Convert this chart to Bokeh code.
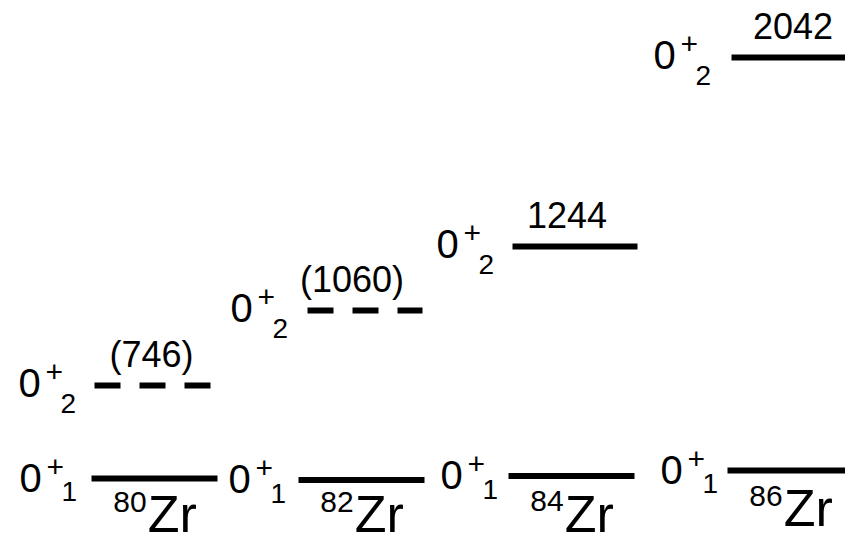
from bokeh.plotting import figure
from bokeh.models import Range1d
from bokeh.core.properties import value
from bokeh.embed import file_html
from bokeh.resources import INLINE

# ---- data ----
mass_numbers = ["80", "82", "84", "86"]
element = "Zr"
ground_labels = ["1", "1", "1", "1"]          # 0+_1
excited_labels = ["2", "2", "2", "2"]         # 0+_2
excited_energy_labels = ["(746)", "(1060)", "1244", "2042"]
excited_tentative = [True, True, False, False]
# schematic level heights (drawing units, not to scale)
ground_level_y = [66, 64.5, 68.5, 74]
excited_level_y = [159, 234, 298, 487]

# ---- layout (drawing units) ----
ground_x0 = [91, 298, 508, 727]
ground_w = 126
excited_x0 = [94, 307, 512, 731]
excited_w = [116, 115, 125, 125]
ground_label_dx = [72, 70, 68, 67]
excited_label_dx = [76, 77, 76, 78]
energy_label_dx = [-1, -13, -8, -1]

FONT = value("Liberation Sans")
BASE_FIX = 0.39  # compensate renderer's alphabetic-baseline shift (em)

p = figure(width=845, height=544, output_backend="svg", toolbar_location=None,
           x_range=Range1d(0, 845), y_range=Range1d(0, 544),
           x_axis_type=None, y_axis_type=None, min_border=0)
p.grid.visible = False
p.outline_line_color = None
p.background_fill_color = "white"


def txt(xs, ys, texts, size, align="left"):
    p.text(x=xs, y=[y + BASE_FIX * size for y in ys], text=texts,
           text_font=FONT, text_font_size=f"{size}px", text_baseline="alphabetic",
           text_align=align, text_color="black")


# ---- level lines ----
gx1 = [x + ground_w for x in ground_x0]
p.segment(x0=ground_x0, y0=ground_level_y, x1=gx1, y1=ground_level_y,
          line_color="black", line_width=6, line_cap="butt")
ex1 = [x + w for x, w in zip(excited_x0, excited_w)]
solid = [i for i in range(4) if not excited_tentative[i]]
dashed = [i for i in range(4) if excited_tentative[i]]
p.segment(x0=[excited_x0[i] for i in solid], y0=[excited_level_y[i] for i in solid],
          x1=[ex1[i] for i in solid], y1=[excited_level_y[i] for i in solid],
          line_color="black", line_width=6, line_cap="butt")
p.segment(x0=[excited_x0[i] for i in dashed], y0=[excited_level_y[i] for i in dashed],
          x1=[ex1[i] for i in dashed], y1=[excited_level_y[i] for i in dashed],
          line_color="black", line_width=6, line_cap="butt", line_dash="26 19")


# ---- spin/parity labels 0+_n ----
def spin_labels(x0s, dxs, ys, subs, zero_drop, sub_drop):
    xs = [x - d for x, d in zip(x0s, dxs)]
    base0 = [y - zero_drop for y in ys]
    txt(xs, base0, ["0"] * len(xs), 40)
    txt([x + 27 for x in xs], [b + 15 for b in base0], ["+"] * len(xs), 30)
    txt([x + 42 for x in xs], [b - sub_drop for b in base0], subs, 28)


spin_labels(ground_x0, ground_label_dx, ground_level_y, ground_labels, 15, 9)
spin_labels(excited_x0, excited_label_dx, excited_level_y, excited_labels, 13, 16)

# ---- energy labels ----
ecx = [x + w / 2 + d for x, w, d in zip(excited_x0, excited_w, energy_label_dx)]
txt(ecx, [y + 17 for y in excited_level_y], excited_energy_labels, 36, "center")

# ---- nucleus labels ----
MASS_PX, EL_PX = 30, 52
w_mass = 2 * 0.556 * MASS_PX
w_el = (0.611 + 0.333) * EL_PX
gcx = [x + ground_w / 2 for x in ground_x0]
split = [c - (w_mass + w_el) / 2 + w_mass for c in gcx]
zr_base = [max(y - 58, 10) for y in ground_level_y]
txt(split, [b + 21 for b in zr_base], mass_numbers, MASS_PX, "right")
txt([s + 1 for s in split], zr_base, [element] * 4, EL_PX, "left")

open("out.html", "w").write(file_html(p, INLINE))
